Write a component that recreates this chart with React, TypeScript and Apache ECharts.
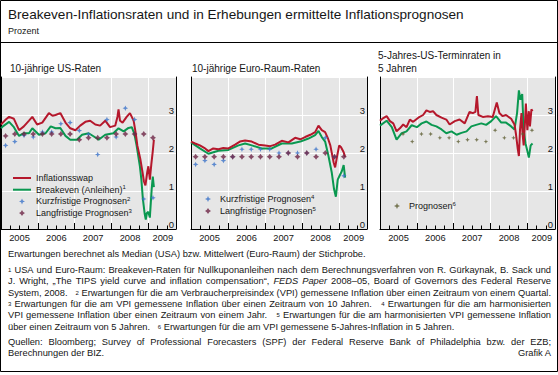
import React, { useEffect, useRef } from 'react';
import * as echarts from 'echarts';

const FONT = 'Liberation Sans';
const TXT = '#161616';
const RED = '#b5182c';
const GREEN = '#0a9850';
const BLUE = '#3b73c9';
const MAROON = '#6e2546';
const OLIVE = '#5e5e32';
const BG = '#e6e6e6';

// ---------- axis values ----------
const years = [2005, 2006, 2007, 2008, 2009];
const axisMin = 2005;
const axisMax = 2009.75;
const yMax = 4;

// ---------- survey dates ----------
const surveyDates = [2005.125, 2005.375, 2005.625, 2005.875, 2006.125, 2006.375, 2006.625, 2006.875, 2007.125, 2007.375, 2007.625, 2007.875, 2008.125, 2008.375, 2008.625, 2008.875, 2009.125];
const usShortFc = [2.2, 2.3, 2.46, 2.42, 2.55, 2.55, 2.77, 2.8, 2.59, 2.49, 1.96, 2.88, 2.42, 3.18, 2.88, 0.79, 0.82];
const usLongFc = [2.45, 2.5, 2.5, 2.5, 2.5, 2.5, 2.5, 2.5, 2.35, 2.4, 2.4, 2.4, 2.5, 2.5, 2.5, 2.5, 2.4];
const euShortFc = [1.7, 1.8, 1.7, 1.8, 1.9, 2.1, 2.1, 2.1, 2.1, 2.0, 2.0, 2.0, 2.0, 2.1, 2.4, 1.9, 1.4];
const euLongFc = [1.9, 1.9, 1.9, 1.9, 1.9, 1.9, 1.9, 1.9, 1.9, 1.9, 2.0, 1.9, 2.0, 1.9, 2.0, 1.9, 1.9];
const fwdFcDates = [2005.625, 2005.875, 2006.125, 2006.375, 2006.625, 2006.875, 2007.125, 2007.375, 2007.625, 2007.875, 2008.125, 2008.375, 2008.625, 2008.875, 2009.125];
const fwdFc = [2.5, 2.3, 2.5, 2.5, 2.4, 2.4, 2.3, 2.35, 2.35, 2.3, 2.6, 2.4, 2.4, 2.5, 2.6];

// ---------- US 10-year ----------
const usSwap: [number, number][] = [
  [2005.0, 2.75], [2005.05, 2.8], [2005.13, 2.88], [2005.22, 2.95], [2005.35, 2.9], [2005.49, 2.6], [2005.62, 2.7], [2005.76, 2.85], [2005.85, 2.95], [2005.98, 2.75],
  [2006.12, 2.8], [2006.3, 3.05], [2006.4, 2.98], [2006.48, 3.0], [2006.61, 3.05], [2006.75, 2.8], [2006.88, 2.65], [2007.02, 2.6], [2007.15, 2.72], [2007.29, 2.82],
  [2007.42, 2.85], [2007.56, 2.75], [2007.69, 2.72], [2007.83, 2.85], [2007.96, 2.68], [2008.1, 2.72], [2008.16, 2.95], [2008.19, 3.15], [2008.23, 2.85], [2008.3, 2.8],
  [2008.41, 2.95], [2008.5, 3.05], [2008.55, 2.95], [2008.6, 2.85], [2008.66, 2.5], [2008.7, 2.2], [2008.78, 1.85], [2008.84, 1.5], [2008.88, 1.25], [2008.92, 1.15],
  [2008.97, 1.5], [2009.0, 1.65], [2009.04, 1.3], [2009.08, 1.7], [2009.12, 2.05], [2009.15, 2.35],
];
const usBreakeven: [number, number][] = [
  [2005.0, 2.65], [2005.05, 2.7], [2005.22, 2.82], [2005.35, 2.68], [2005.49, 2.45], [2005.62, 2.52], [2005.76, 2.52], [2005.85, 2.65], [2006.03, 2.48], [2006.21, 2.52],
  [2006.35, 2.7], [2006.48, 2.65], [2006.61, 2.66], [2006.75, 2.45], [2006.88, 2.35], [2007.06, 2.35], [2007.2, 2.48], [2007.38, 2.52], [2007.51, 2.44], [2007.65, 2.35],
  [2007.83, 2.48], [2008.05, 2.52], [2008.19, 2.65], [2008.33, 2.57], [2008.46, 2.66], [2008.55, 2.68], [2008.62, 2.5], [2008.68, 2.2], [2008.77, 1.65], [2008.81, 1.3],
  [2008.85, 0.8], [2008.9, 0.4], [2008.93, 0.25], [2008.96, 0.42], [2009.0, 0.45], [2009.04, 0.3], [2009.09, 1.05], [2009.12, 1.38], [2009.15, 1.1],
];

// ---------- Euro area 10-year ----------
const euSwap: [number, number][] = [
  [2005.0, 2.3], [2005.11, 2.25], [2005.24, 2.2], [2005.38, 2.12], [2005.47, 2.05], [2005.6, 2.12], [2005.74, 2.1], [2005.87, 2.13], [2006.01, 2.12], [2006.19, 2.22],
  [2006.32, 2.3], [2006.46, 2.33], [2006.64, 2.3], [2006.82, 2.22], [2007.0, 2.2], [2007.14, 2.18], [2007.27, 2.22], [2007.45, 2.32], [2007.63, 2.28], [2007.81, 2.4],
  [2007.95, 2.36], [2008.08, 2.42], [2008.22, 2.48], [2008.35, 2.55], [2008.44, 2.72], [2008.53, 2.6], [2008.62, 2.55], [2008.69, 2.4], [2008.76, 2.2], [2008.85, 1.75],
  [2008.89, 1.62], [2008.94, 1.9], [2009.0, 2.2], [2009.05, 2.15], [2009.12, 2.02], [2009.16, 1.9],
];
const euBreakeven: [number, number][] = [
  [2005.0, 2.28], [2005.24, 2.12], [2005.47, 1.98], [2005.74, 2.06], [2006.01, 2.08], [2006.28, 2.2], [2006.46, 2.25], [2006.64, 2.2], [2006.91, 2.12], [2007.18, 2.12],
  [2007.45, 2.25], [2007.72, 2.25], [2007.95, 2.3], [2008.17, 2.38], [2008.35, 2.47], [2008.44, 2.58], [2008.53, 2.42], [2008.62, 2.3], [2008.71, 1.92], [2008.8, 1.48],
  [2008.86, 1.05], [2008.91, 0.85], [2008.96, 1.3], [2009.01, 1.4], [2009.07, 1.52], [2009.12, 1.68], [2009.16, 1.35],
];

// ---------- US 5y5y forward ----------
const fwdSwap: [number, number][] = [
  [2005.0, 2.85], [2005.09, 2.92], [2005.18, 2.97], [2005.27, 2.84], [2005.36, 2.78], [2005.45, 2.57], [2005.54, 2.65], [2005.63, 2.75], [2005.72, 2.68], [2005.81, 2.88],
  [2005.9, 2.82], [2006.04, 2.93], [2006.17, 3.0], [2006.26, 3.12], [2006.35, 3.08], [2006.44, 3.1], [2006.53, 3.0], [2006.67, 2.93], [2006.8, 2.88], [2006.89, 2.75],
  [2007.03, 2.84], [2007.16, 2.88], [2007.3, 2.78], [2007.43, 3.08], [2007.52, 3.05], [2007.59, 3.08], [2007.63, 3.5], [2007.67, 3.0], [2007.79, 2.95], [2007.93, 2.97],
  [2008.06, 2.95], [2008.17, 3.33], [2008.24, 3.05], [2008.33, 2.97], [2008.42, 3.0], [2008.56, 2.9], [2008.65, 2.75], [2008.69, 2.5], [2008.74, 2.1], [2008.77, 1.92],
  [2008.8, 2.6], [2008.84, 3.05], [2008.87, 2.5], [2008.9, 2.2], [2008.94, 2.9], [2008.96, 3.3], [2009.0, 2.6], [2009.04, 3.1], [2009.07, 2.7], [2009.11, 3.15], [2009.14, 3.1],
];
const fwdBreakeven: [number, number][] = [
  [2005.0, 2.72], [2005.18, 2.85], [2005.32, 2.68], [2005.45, 2.35], [2005.59, 2.52], [2005.72, 2.57], [2005.86, 2.73], [2006.0, 2.68], [2006.13, 2.78], [2006.26, 2.83],
  [2006.4, 2.74], [2006.53, 2.7], [2006.67, 2.62], [2006.8, 2.52], [2006.94, 2.57], [2007.08, 2.48], [2007.21, 2.53], [2007.35, 2.57], [2007.48, 2.7], [2007.61, 2.74],
  [2007.75, 2.78], [2007.88, 2.74], [2008.02, 2.84], [2008.15, 2.97], [2008.29, 2.8], [2008.42, 2.8], [2008.56, 2.7], [2008.65, 2.62], [2008.72, 3.05], [2008.77, 3.65],
  [2008.81, 3.4], [2008.86, 3.55], [2008.9, 2.6], [2008.95, 2.25], [2009.0, 2.05], [2009.04, 1.88], [2009.09, 2.2], [2009.14, 2.25],
];

// ---------- texts ----------
const TITLE = 'Breakeven-Inflationsraten und in Erhebungen ermittelte Inflationsprognosen';
const UNIT = 'Prozent';
const PANEL_TITLES = [
  { x: 10, lines: ['10-jährige US-Raten'] },
  { x: 192, lines: ['10-jährige Euro-Raum-Raten'] },
  { x: 378, lines: ['5-Jahres-US-Terminraten in', '5 Jahren'] },
];
const FOOT_LINES = [
  { y: 254, j: false, text: 'Erwartungen berechnet als Median (USA) bzw. Mittelwert (Euro-Raum) der Stichprobe.' },
  { y: 270, j: true, text: '{s|1} USA und Euro-Raum: Breakeven-Raten für Nullkuponanleihen nach dem Berechnungsverfahren von R. Gürkaynak, B. Sack und' },
  { y: 281.3, j: true, text: 'J. Wright, „The TIPS yield curve and inflation compensation“, {i|FEDS} {i|Paper} 2008–05, Board of Governors des Federal Reserve' },
  { y: 292.6, j: true, text: 'System, 2008.   {s|2} Erwartungen für die am Verbraucherpreisindex (VPI) gemessene Inflation über einen Zeitraum von einem Quartal.' },
  { y: 303.9, j: true, text: '{s|3} Erwartungen für die am VPI gemessene Inflation über einen Zeitraum von 10 Jahren.   {s|4} Erwartungen für die am harmonisierten' },
  { y: 315.2, j: true, text: 'VPI gemessene Inflation über einen Zeitraum von einem Jahr.   {s|5} Erwartungen für die am harmonisierten VPI gemessene Inflation' },
  { y: 326.5, j: false, text: 'über einen Zeitraum von 5 Jahren.   {s|6} Erwartungen für die am VPI gemessene 5-Jahres-Inflation in 5 Jahren.' },
  { y: 342, j: true, text: 'Quellen: Bloomberg; Survey of Professional Forecasters (SPF) der Federal Reserve Bank of Philadelphia bzw. der EZB;' },
  { y: 353.3, j: false, text: 'Berechnungen der BIZ.' },
];
const GRAFIK = 'Grafik A';

const FS = 9.3;
const SUPS = 6;
const FOOT_LEFT = 8;
const FOOT_RIGHT = 551;

const SUPMAP: Record<string, string> = { '¹': '1', '²': '2', '³': '3', '⁴': '4', '⁵': '5', '⁶': '6' };

const STAR_THIN = 'path://M5,0 L6.5,3.5 L10,5 L6.5,6.5 L5,10 L3.5,6.5 L0,5 L3.5,3.5 Z';
const STAR_FAT = 'path://M5,0 L7,3 L10,5 L7,7 L5,10 L3,7 L0,5 L3,3 Z';
const LINE_ICON = 'path://M0,0 L18,0 L18,2 L0,2 Z';

const GRIDS = [
  { left: 1, width: 175 },
  { left: 191, width: 176 },
  { left: 380, width: 177 },
];
const GRID_TOP = 77;
const GRID_H = 152;

function parseWord(w: string) {
  const out: { t: string; st: string }[] = [];
  const re = /\{(\w)\|([^}]*)\}|([^{]+)/g;
  let m: RegExpExecArray | null;
  while ((m = re.exec(w))) {
    if (m[3] !== undefined) out.push({ t: m[3], st: 'n' });
    else out.push({ t: m[2], st: m[1] });
  }
  return out;
}

function buildFootnotes(): any[] {
  const ctx = document.createElement('canvas').getContext('2d')!;
  const fontOf = (st: string) =>
    st === 's' ? `normal normal ${SUPS}px ${FONT}` : st === 'i' ? `italic normal ${FS}px ${FONT}` : `normal normal ${FS}px ${FONT}`;
  const meas = (t: string, st: string) => {
    ctx.font = fontOf(st);
    return ctx.measureText(t).width;
  };
  const rich = {
    s: { fontSize: SUPS, fontFamily: FONT, fill: TXT, lineHeight: SUPS, verticalAlign: 'top' },
    i: { fontSize: FS, fontFamily: FONT, fontStyle: 'italic', fill: TXT, lineHeight: 11 },
  };
  const els: any[] = [];
  const spaceW = meas(' ', 'n');
  FOOT_LINES.forEach((ln) => {
    const parts = ln.text.split(/( +)/);
    const words: string[] = [];
    const gaps: number[] = [];
    parts.forEach((p, i) => (i % 2 === 0 ? words.push(p) : gaps.push(p.length)));
    const widths = words.map((w) => parseWord(w).reduce((s, tk) => s + meas(tk.t, tk.st), 0));
    const nSpaces = gaps.reduce((a, b) => a + b, 0);
    const natural = widths.reduce((a, b) => a + b, 0) + nSpaces * spaceW;
    const extra = ln.j && nSpaces > 0 ? (FOOT_RIGHT - FOOT_LEFT - natural) / nSpaces : 0;
    let x = FOOT_LEFT;
    words.forEach((w, i) => {
      if (w.length) {
        els.push({
          type: 'text', x, y: ln.y, silent: true,
          style: {
            text: w, fontSize: FS, fontFamily: FONT, fill: TXT, lineHeight: 11,
            align: 'left', verticalAlign: 'middle', textAlign: 'left', textVerticalAlign: 'middle', rich,
          },
        });
      }
      x += widths[i];
      if (i < gaps.length) x += gaps[i] * (spaceW + extra);
    });
  });
  els.push({
    type: 'text', x: FOOT_RIGHT, y: 353.3, silent: true,
    style: { text: GRAFIK, fontSize: FS, fontFamily: FONT, fill: TXT, align: 'right', verticalAlign: 'middle', textAlign: 'right', textVerticalAlign: 'middle' },
  });
  return els;
}

function textEl(text: string, x: number, y: number, size: number) {
  return {
    type: 'text', x, y, silent: true,
    style: { text, fontSize: size, fontFamily: FONT, fill: TXT, align: 'left', verticalAlign: 'middle', textAlign: 'left', textVerticalAlign: 'middle' },
  };
}

const legendFmt = (name: string) => {
  const last = name.slice(-1);
  return SUPMAP[last] ? `{n|${name.slice(0, -1)}}{s|${SUPMAP[last]}}` : `{n|${name}}`;
};
const legendText = {
  fontSize: 9, fontFamily: FONT, color: TXT, lineHeight: 11,
  rich: {
    n: { fontSize: 9, fontFamily: FONT, color: TXT, lineHeight: 11 },
    s: { fontSize: 6, fontFamily: FONT, color: TXT, lineHeight: 6, verticalAlign: 'top' },
  },
};

function buildOption(): any {
  const grid = GRIDS.map((g) => ({ left: g.left, top: GRID_TOP, width: g.width, height: GRID_H, show: true, backgroundColor: BG, borderWidth: 0, containLabel: false }));
  const xAxis: any[] = [];
  const yAxis: any[] = [];
  GRIDS.forEach((_, gi) => {
    xAxis.push({
      type: 'value', gridIndex: gi, position: 'bottom', min: axisMin, max: axisMax, interval: 1,
      axisLine: { show: true, onZero: false, lineStyle: { color: '#000', width: 1 } },
      axisTick: { show: true, inside: true, length: 6, lineStyle: { color: '#000', width: 1 } },
      splitLine: { show: true, lineStyle: { color: '#fff', width: 1 } },
      axisLabel: {
        show: true, margin: 4, fontSize: 9.3, fontFamily: FONT, color: TXT, showMinLabel: true, showMaxLabel: true,
        formatter: (v: number) => (years.includes(v) ? (v === 2009 ? `{e|${v}}` : `{n|${v}}`) : ''),
        rich: {
          n: { fontSize: 9.3, fontFamily: FONT, color: TXT, padding: [0, 0, 0, 37] },
          e: { fontSize: 9.3, fontFamily: FONT, color: TXT, padding: [0, 0, 0, 29] },
        },
      },
    });
    xAxis.push({
      type: 'value', gridIndex: gi, position: 'bottom', offset: 0, min: axisMin, max: axisMax, interval: 0.25,
      axisLine: { show: false, onZero: false },
      axisTick: { show: true, inside: true, length: 3.5, lineStyle: { color: '#000', width: 1 } },
      splitLine: { show: false }, axisLabel: { show: false },
    });
    yAxis.push({
      type: 'value', gridIndex: gi, position: 'right', min: 0, max: yMax, interval: 1,
      axisLine: { show: true, onZero: false, lineStyle: { color: '#000', width: 1 } },
      axisTick: { show: false },
      splitLine: { show: true, lineStyle: { color: '#fff', width: 1 } },
      axisLabel: {
        show: true, inside: true, margin: 2, fontSize: 9.5, fontFamily: FONT, color: TXT, verticalAlign: 'bottom',
        formatter: (v: number) => (v < yMax ? String(v) : ''),
      },
    });
    yAxis.push({
      type: 'value', gridIndex: gi, position: 'left', min: 0, max: yMax, interval: 1,
      axisLine: { show: true, onZero: false, lineStyle: { color: '#000', width: 1 } },
      axisTick: { show: false }, splitLine: { show: false }, axisLabel: { show: false },
    });
  });

  const line = (name: string, gi: number, data: [number, number][], color: string) => ({
    name, type: 'line', xAxisIndex: gi * 2, yAxisIndex: gi * 2, data, symbol: 'none', showSymbol: false,
    legendIcon: LINE_ICON,
    lineStyle: { color, width: 2 }, itemStyle: { color }, z: 3,
  });
  const scatter = (name: string, gi: number, dates: number[], vals: number[], color: string, symbol: string, size: number) => ({
    name, type: 'scatter', xAxisIndex: gi * 2, yAxisIndex: gi * 2, data: dates.map((d, i) => [d, vals[i]]),
    symbol, symbolSize: size, itemStyle: { color }, z: 5,
  });

  const series = [
    line('Breakeven (Anleihen)¹', 0, usBreakeven, GREEN),
    line('Inflationsswap', 0, usSwap, RED),
    scatter('Kurzfristige Prognosen²', 0, surveyDates, usShortFc, BLUE, STAR_THIN, 5.5),
    scatter('Langfristige Prognosen³', 0, surveyDates, usLongFc, MAROON, STAR_FAT, 6),
    line('Breakeven Euro-Raum', 1, euBreakeven, GREEN),
    line('Inflationsswap Euro-Raum', 1, euSwap, RED),
    scatter('Kurzfristige Prognosen⁴', 1, surveyDates, euShortFc, BLUE, STAR_THIN, 5.5),
    scatter('Langfristige Prognosen⁵', 1, surveyDates, euLongFc, MAROON, STAR_FAT, 6),
    line('Breakeven Terminrate', 2, fwdBreakeven, GREEN),
    line('Inflationsswap Terminrate', 2, fwdSwap, RED),
    scatter('Prognosen⁶', 2, fwdFcDates, fwdFc, OLIVE, STAR_THIN, 4.5),
  ];

  const legendBase = { orient: 'vertical', padding: 0, itemHeight: 6, selectedMode: false, formatter: legendFmt, textStyle: legendText };
  const legend = [
    {
      ...legendBase, left: 13, top: 172.5, itemWidth: 18, itemGap: 0.7,
      data: [
        { name: 'Inflationsswap', icon: LINE_ICON },
        { name: 'Breakeven (Anleihen)¹', icon: LINE_ICON },
        { name: 'Kurzfristige Prognosen²' },
        { name: 'Langfristige Prognosen³' },
      ],
    },
    { ...legendBase, left: 205, top: 193.5, itemWidth: 14, itemGap: 1, data: ['Kurzfristige Prognosen⁴', 'Langfristige Prognosen⁵'] },
    { ...legendBase, left: 394, top: 200.5, itemWidth: 14, itemGap: 1, data: ['Prognosen⁶'] },
  ];

  const graphic: any[] = [
    { type: 'rect', silent: true, shape: { x: 0.5, y: 0.5, width: 557, height: 371 }, style: { fill: 'none', stroke: '#000', lineWidth: 1 } },
    { type: 'line', silent: true, shape: { x1: 0, y1: 42.5, x2: 558, y2: 42.5 }, style: { stroke: '#000', lineWidth: 1 } },
    textEl(TITLE, 8, 14, 13.6),
    textEl(UNIT, 8, 31, 9),
  ];
  PANEL_TITLES.forEach((p) => {
    const n = p.lines.length;
    p.lines.forEach((l, i) => graphic.push(textEl(l, p.x, 68 - (n - 1 - i) * 12.5, 10)));
  });
  graphic.push(...buildFootnotes());

  return { animation: false, backgroundColor: '#fff', grid, xAxis, yAxis, series, legend, graphic };
}

export default function App() {
  const ref = useRef<HTMLDivElement>(null);
  useEffect(() => {
    if (!ref.current) return;
    const chart = echarts.init(ref.current, undefined, { renderer: 'svg' });
    chart.setOption(buildOption());
    return () => chart.dispose();
  }, []);
  return <div ref={ref} style={{ width: 558, height: 375, position: 'absolute', left: 0, top: 0 }} />;
}
